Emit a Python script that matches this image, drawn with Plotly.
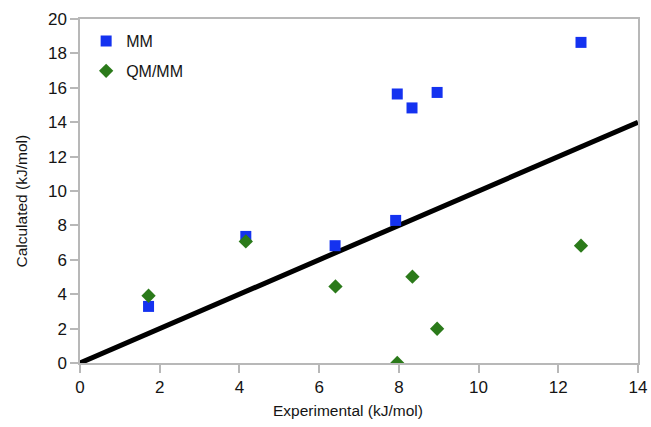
import plotly.graph_objects as go

mm_x = [1.72, 4.16, 6.40, 7.92, 7.96, 8.33, 8.96, 12.57]
mm_y = [3.29, 7.36, 6.82, 8.29, 15.64, 14.83, 15.73, 18.64]
qm_x = [1.72, 4.16, 6.41, 7.96, 8.34, 8.96, 12.57]
qm_y = [3.91, 7.07, 4.45, 0.0, 5.02, 1.99, 6.82]
line_x = [0, 14]
line_y = [0, 14]

x_ticks = [0, 2, 4, 6, 8, 10, 12, 14]
y_ticks = [0, 2, 4, 6, 8, 10, 12, 14, 16, 18, 20]

FONT = "Liberation Sans"
TXT = "#141414"

fig = go.Figure()
fig.add_trace(go.Scatter(x=line_x, y=line_y, mode="lines",
                         line=dict(color="black", width=5), showlegend=False,
                         hoverinfo="skip"))
fig.add_trace(go.Scatter(x=mm_x, y=mm_y, mode="markers", name="MM", legendgroup="a",
                         marker=dict(symbol="square", size=11, color="#1432f0")))
fig.add_trace(go.Scatter(x=qm_x, y=qm_y, mode="markers", name="QM/MM", legendgroup="b",
                         marker=dict(symbol="diamond", size=11, color="#2b7a1a")))

axis_common = dict(showgrid=False, zeroline=False, showline=True, linecolor="#b8b8b8",
                   linewidth=1.5, mirror=True, ticks="outside", ticklen=8,
                   tickcolor="#b8b8b8", tickwidth=1.5, automargin=False,
                   tickfont=dict(family=FONT, size=17, color=TXT))

fig.update_xaxes(range=[0, 14], tickvals=x_ticks, **axis_common)
fig.update_yaxes(range=[0, 20], tickvals=y_ticks, **axis_common)

fig.add_annotation(text="Experimental (kJ/mol)", xref="paper", yref="paper",
                   x=0.480, y=-0.1395, showarrow=False, xanchor="center", yanchor="middle",
                   font=dict(family=FONT, size=15.5, color=TXT))
fig.add_annotation(text="Calculated (kJ/mol)", xref="paper", yref="paper",
                   x=-0.1057, y=0.4695, showarrow=False, xanchor="center", yanchor="middle",
                   textangle=-90, font=dict(family=FONT, size=15.5, color=TXT))

fig.update_layout(
    width=651, height=427,
    margin=dict(l=80, r=13, t=19, b=64),
    plot_bgcolor="white", paper_bgcolor="white",
    legend=dict(x=0.011, y=0.985, xanchor="left", yanchor="top",
                font=dict(family=FONT, size=16, color=TXT), tracegroupgap=6,
                bgcolor="rgba(0,0,0,0)"),
)

fig.write_html("out.html", config={"displayModeBar": False},
               post_script="document.body.style.margin='0';document.body.style.overflow='hidden';")
